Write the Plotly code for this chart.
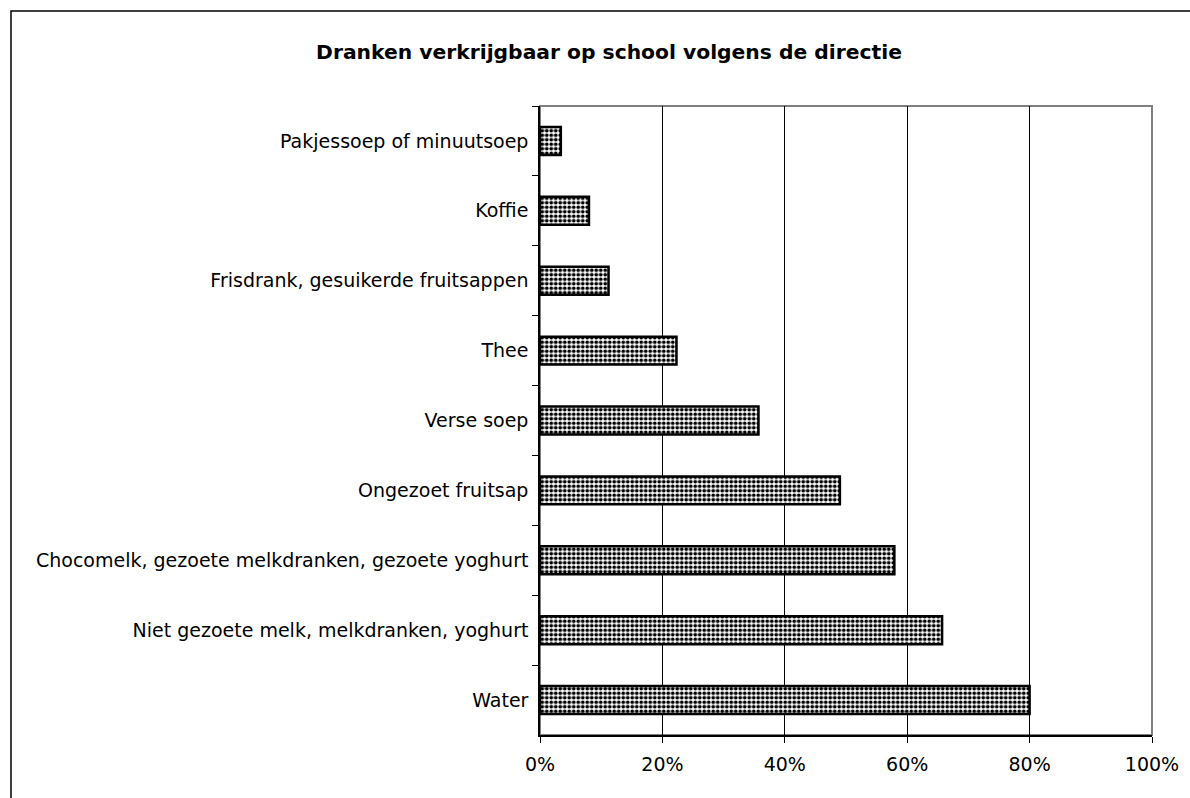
import plotly.graph_objects as go

categories = [
    "Pakjessoep of minuutsoep",
    "Koffie",
    "Frisdrank, gesuikerde fruitsappen",
    "Thee",
    "Verse soep",
    "Ongezoet fruitsap",
    "Chocomelk, gezoete melkdranken, gezoete yoghurt",
    "Niet gezoete melk, melkdranken, yoghurt",
    "Water",
]
values = [0.034, 0.080, 0.112, 0.223, 0.357, 0.490, 0.579, 0.657, 0.800]
x_tickvals = [0, 0.2, 0.4, 0.6, 0.8, 1.0]
x_ticktext = ["0%", "20%", "40%", "60%", "80%", "100%"]
title_text = "Dranken verkrijgbaar op school volgens de directie"

FONT = "DejaVu Sans, Arial, sans-serif"

fig = go.Figure()
fig.add_trace(go.Bar(
    y=categories,
    x=values,
    orientation="h",
    width=0.4,
    marker=dict(
        color="white",
        line=dict(color="black", width=2.5),
        pattern=dict(shape=".", size=4.5, solidity=0.55, fgcolor="black",
                     bgcolor="white", fillmode="replace"),
    ),
    hoverinfo="x+y",
))

W, H = 1190, 798
L, R, T, B = 540, 38, 106, 63

fig.update_layout(
    width=W, height=H,
    margin=dict(l=L, r=R, t=T, b=B),
    paper_bgcolor="white",
    plot_bgcolor="white",
    showlegend=False,
    font=dict(family=FONT, size=19, color="black"),
    title=dict(text="<b>" + title_text + "</b>", x=609 / W, xanchor="center",
               y=1 - 52 / H, yanchor="middle",
               font=dict(family=FONT, size=20.3, color="black")),
    xaxis=dict(
        range=[0, 1], tickvals=x_tickvals, ticktext=x_ticktext,
        showgrid=True, gridcolor="black", gridwidth=1,
        showline=True, linecolor="black", linewidth=1.5,
        ticks="outside", ticklen=6, tickcolor="black",
        zeroline=False, fixedrange=True,
        tickfont=dict(family=FONT, size=19),
        ticklabelstandoff=5,
    ),
    yaxis=dict(
        autorange="reversed",
        showline=True, linecolor="black", linewidth=1.5,
        ticks="outside", ticklen=6, tickcolor="black", tickson="boundaries",
        showgrid=False, fixedrange=True,
        tickfont=dict(family=FONT, size=19),
        ticklabelstandoff=6,
    ),
    bargap=0.6,
)

# plot-area border (gray top/right)
fig.add_shape(type="rect", xref="paper", yref="paper", x0=0, x1=1, y0=0, y1=1,
              line=dict(color="#808080", width=2), layer="below")
# outer chart border (only top/left visible in frame)
pw, ph = W - L - R, H - T - B
fig.add_shape(type="rect", xref="paper", yref="paper",
              x0=(11 - L) / pw, x1=(W + 20 - L) / pw,
              y0=-(B + 20) / ph,
              y1=1 + (T - 11) / ph,
              line=dict(color="black", width=1.5), layer="below")

fig.write_html("out.html",
               config={"displayModeBar": False},
               post_script="document.body.style.margin='0';document.body.style.overflow='hidden';")
